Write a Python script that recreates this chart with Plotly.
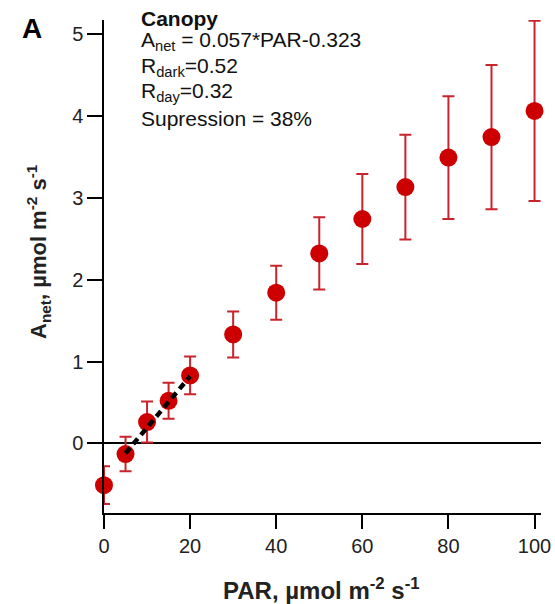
import plotly.graph_objects as go

par = [0, 5, 10, 15, 20, 30, 40, 50, 60, 70, 80, 90, 100]
anet = [-0.51, -0.13, 0.26, 0.52, 0.83, 1.33, 1.84, 2.32, 2.74, 3.13, 3.49, 3.74, 4.06]
err = [0.23, 0.21, 0.25, 0.22, 0.23, 0.28, 0.33, 0.44, 0.55, 0.64, 0.75, 0.88, 1.1]
fit_x = [5, 20]
fit_y = [-0.12, 0.82]

info_lines = [
    "<b>Canopy</b>",
    "A<sub>net</sub> = 0.057*PAR-0.323",
    "R<sub>dark</sub>=0.52",
    "R<sub>day</sub>=0.32",
    "Supression = 38%",
]
x_title = "<b>PAR, µmol m<sup>-2</sup> s<sup>-1</sup></b>"
y_title = "<b>A<sub>net</sub>, µmol m<sup>-2</sup> s<sup>-1</sup></b>"

font = "Liberation Sans, Arial, sans-serif"
W, H = 555, 604
L, R, T = 104, 14, 20
B = H - 513
pw, ph = W - L - R, H - T - B


def px(xp):
    return (xp - L) / pw


def py(yp):
    return 1 - (yp - T) / ph


fig = go.Figure()
fig.add_trace(go.Scatter(
    x=par, y=anet, mode="markers",
    marker=dict(color="#cc0000", size=18, line=dict(width=0)),
    error_y=dict(type="data", array=err, visible=True, color="#c8242b", thickness=2, width=6),
    showlegend=False, cliponaxis=False,
))
fig.add_trace(go.Scatter(
    x=fit_x, y=fit_y, mode="lines",
    line=dict(color="black", width=4.5, dash="7px,5px"),
    showlegend=False,
))

fig.update_layout(
    width=W, height=H,
    margin=dict(l=L, r=R, t=T, b=B),
    plot_bgcolor="white", paper_bgcolor="white",
    font=dict(family=font, size=20, color="#222222"),
    xaxis=dict(
        range=[0, 101.5], tickvals=[0, 20, 40, 60, 80, 100],
        showline=True, linecolor="black", linewidth=1.5,
        ticks="outside", ticklen=14, tickwidth=1.5, tickcolor="black",
        showgrid=False, zeroline=False, automargin=False, ticklabeloverflow="allow",
        tickfont=dict(size=20, color="#222222"),
    ),
    yaxis=dict(
        range=[-0.85, 5.17], tickvals=[0, 1, 2, 3, 4, 5],
        showline=True, linecolor="black", linewidth=1.5,
        ticks="outside", ticklen=15, tickwidth=1.5, tickcolor="black",
        showgrid=False, zeroline=True, zerolinecolor="black", zerolinewidth=1.5,
        automargin=False,
        tickfont=dict(size=20, color="#222222"),
    ),
)

fig.add_annotation(text="<b>A</b>", xref="paper", yref="paper", x=px(32), y=py(28),
                   xanchor="center", yanchor="middle", showarrow=False,
                   font=dict(size=28, color="black"))
ys = [19, 41, 67, 92, 118]
for t, yp in zip(info_lines, ys):
    fig.add_annotation(text=t, xref="paper", yref="paper",
                       x=px(139), y=py(yp),
                       xanchor="left", yanchor="middle", showarrow=False,
                       font=dict(size=21, color="#111111"))

fig.add_annotation(text=x_title, xref="paper", yref="paper", x=px(321), y=py(589),
                   xanchor="center", yanchor="middle", showarrow=False,
                   font=dict(size=24, color="#222222"))
fig.add_annotation(text=y_title, xref="paper", yref="paper", x=px(38), y=py(252),
                   xanchor="center", yanchor="middle", showarrow=False, textangle=-90,
                   font=dict(size=22, color="#222222"))

fig.write_html(
    "out.html",
    config={"displayModeBar": False},
    post_script="document.documentElement.style.overflow='hidden';"
                "document.body.style.margin='0';document.body.style.overflow='hidden';",
)
